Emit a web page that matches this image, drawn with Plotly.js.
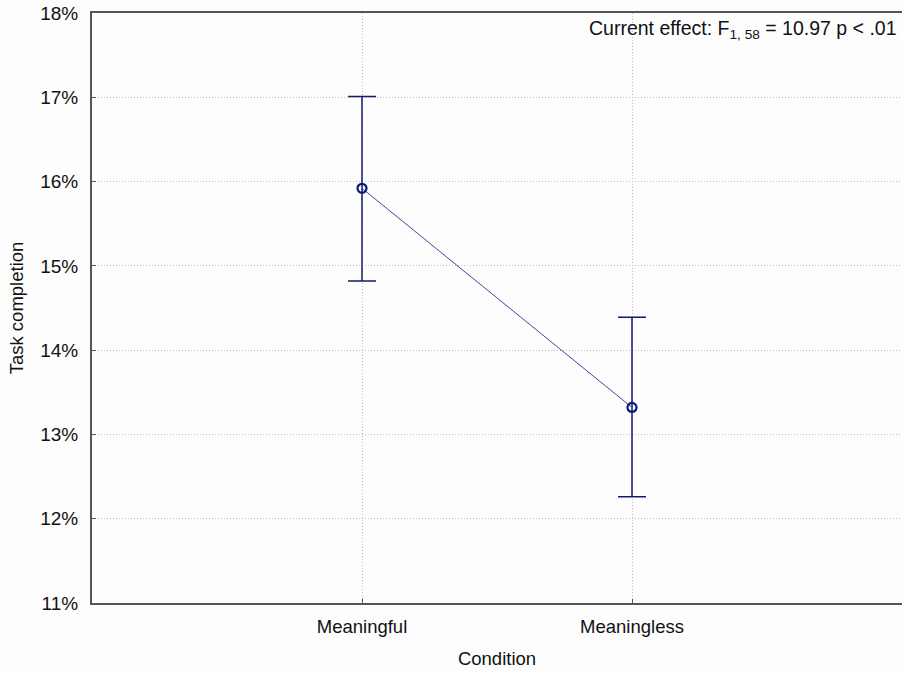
<!DOCTYPE html>
<html>
<head>
<meta charset="utf-8">
<script src="https://cdn.plot.ly/plotly-3.0.1.min.js"></script>
<style>html,body{margin:0;padding:0;background:#fff;}#chart{width:902px;height:673px;}</style>
</head>
<body>
<div id="chart"></div>
<script>
const conditions = ["Meaningful", "Meaningless"];
const means = [15.92, 13.32];
const upper = [17.01, 14.39];
const lower = [14.82, 12.26];
const yTicks = [11, 12, 13, 14, 15, 16, 17, 18];
const yTickLabels = ["11%", "12%", "13%", "14%", "15%", "16%", "17%", "18%"];

const errPlus = means.map((m, i) => upper[i] - m);
const errMinus = means.map((m, i) => m - lower[i]);

const trace = {
  x: conditions,
  y: means,
  type: "scatter",
  mode: "lines+markers",
  line: {color: "#3c4a9c", width: 1},
  marker: {symbol: "circle-open", size: 9, color: "#0a1a7a", line: {width: 2.2, color: "#0a1a7a"}},
  error_y: {type: "data", symmetric: false, array: errPlus, arrayminus: errMinus, color: "#141c66", thickness: 1.5, width: 14},
  hoverinfo: "skip",
  showlegend: false
};

const fontFam = "Liberation Sans, Arial, sans-serif";
const fs = 18.5;
const layout = {
  width: 902, height: 673,
  margin: {l: 92, r: 0, t: 13, b: 70},
  paper_bgcolor: "#fdfdfd",
  plot_bgcolor: "#fdfdfd",
  font: {family: fontFam, size: fs, color: "#111"},
  xaxis: {
    type: "category",
    range: [-1, 2],
    showgrid: true, gridcolor: "#bdbdbd", griddash: "1px,2px", gridwidth: 1,
    showline: true, linecolor: "#555", linewidth: 2, mirror: true,
    ticks: "inside", ticklen: 4, tickcolor: "#555",
    ticklabelstandoff: 6,
    tickfont: {size: fs, family: fontFam, color: "#111"},
    title: {text: "Condition", font: {size: fs, family: fontFam, color: "#111"}, standoff: 16},
    zeroline: false, fixedrange: true
  },
  yaxis: {
    range: [11, 18],
    tickvals: yTicks, ticktext: yTickLabels,
    showgrid: true, gridcolor: "#bdbdbd", griddash: "1px,2px", gridwidth: 1,
    showline: true, linecolor: "#555", linewidth: 2, mirror: true,
    ticks: "inside", ticklen: 4, tickcolor: "#555",
    ticklabelstandoff: 8,
    tickfont: {size: 19, family: fontFam, color: "#111"},
    title: {text: "Task completion", font: {size: fs, family: fontFam, color: "#111"}, standoff: 12},
    zeroline: false, fixedrange: true
  },
  annotations: [{
    xref: "paper", yref: "paper", x: 0.9965, y: 0.996,
    xanchor: "right", yanchor: "top", showarrow: false,
    text: "Current effect: F<sub>1, 58</sub> = 10.97 p < .01",
    font: {size: 19.5, family: fontFam, color: "#111"}
  }]
};

Plotly.newPlot("chart", [trace], layout, {displayModeBar: false, staticPlot: true});
</script>
</body>
</html>
